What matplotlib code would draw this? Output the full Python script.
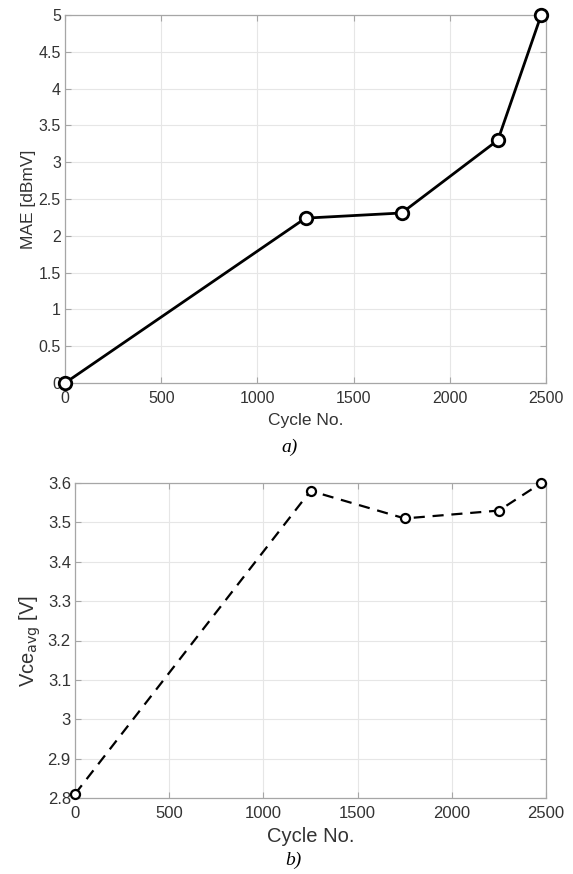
import numpy as np
import matplotlib.pyplot as plt

plt.rcParams['font.family'] = ['Liberation Sans', 'DejaVu Sans']

cycles = [0, 1250, 1750, 2250, 2475]
mae = [0.0, 2.24, 2.31, 3.3, 5.0]
vce_avg = [2.81, 3.58, 3.51, 3.53, 3.60]

grey = '#333333'
fig = plt.figure(figsize=(5.73, 8.74), dpi=100)
W, H = 573, 874


def frame(ax, fs):
    ax.grid(True, color='#e6e6e6', lw=0.8)
    ax.set_axisbelow(True)
    for s in ax.spines.values():
        s.set_color('#a6a6a6')
        s.set_linewidth(0.9)
    ax.tick_params(direction='in', top=True, right=True, colors='#a6a6a6',
                   labelcolor=grey, labelsize=fs, length=4)
    ax.tick_params(axis='x', pad=6)
    ax.tick_params(axis='y', pad=3)
    ax.set_xlim(0, 2500)
    ax.set_xticks([0, 500, 1000, 1500, 2000, 2500])


# a) MAE against cycle count
ax1 = fig.add_axes([65 / W, 1 - 383 / H, (546 - 65) / W, (383 - 15) / H])
frame(ax1, 11.5)
ax1.plot(cycles, mae, '-', color='black', lw=2, marker='o', ms=9,
         mfc='white', mec='black', mew=2, clip_on=False, zorder=5)
ax1.set_ylim(0, 5)
ax1.set_yticks(np.arange(0, 5.01, 0.5))
ax1.set_yticklabels(['0', '0.5', '1', '1.5', '2', '2.5', '3', '3.5', '4', '4.5', '5'])
ax1.set_xlabel('Cycle No.', fontsize=12.5, color=grey, labelpad=5)
ax1.set_ylabel('MAE [dBmV]', fontsize=12.5, color=grey, labelpad=2)
fig.text(290 / W, 1 - 447 / H, 'a)', family='Liberation Serif', style='italic',
         fontsize=14, ha='center', va='center')

# b) average Vce against cycle count
ax2 = fig.add_axes([75 / W, 1 - 798 / H, (546 - 75) / W, (798 - 483) / H])
frame(ax2, 12)
ax2.plot(cycles, vce_avg, '--', color='black', lw=1.6, marker='o', ms=6.5,
         mfc='white', mec='black', mew=1.6, clip_on=False, zorder=5,
         dashes=(5, 3.5))
ax2.set_ylim(2.8, 3.6)
ax2.set_yticks(np.arange(2.8, 3.61, 0.1))
ax2.set_yticklabels(['2.8', '2.9', '3', '3.1', '3.2', '3.3', '3.4', '3.5', '3.6'])
ax2.set_xlabel('Cycle No.', fontsize=14.5, color=grey, labelpad=4)
ax2.set_ylabel(r'Vce$_{\mathrm{avg}}$ [V]', fontsize=14.5, color=grey, labelpad=3)
fig.text(293 / W, 1 - 860 / H, 'b)', family='Liberation Serif', style='italic',
         fontsize=14, ha='center', va='center')

fig.savefig('out.png', dpi=100, facecolor='white')
